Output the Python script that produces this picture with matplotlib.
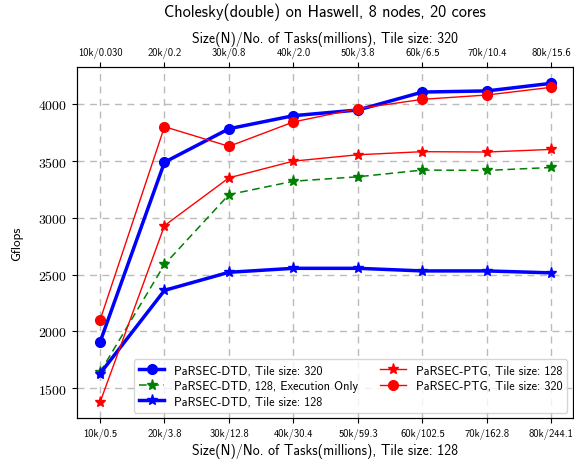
import matplotlib
matplotlib.use("Agg")
import matplotlib.pyplot as plt

plt.rcParams['font.family'] = ['cmss10', 'DejaVu Sans']
plt.rcParams['axes.formatter.use_mathtext'] = True

# Problem sizes (x positions 1..8) and tick labels for both tile sizes
sizes = [1, 2, 3, 4, 5, 6, 7, 8]
labels_128 = ["10k/0.5", "20k/3.8", "30k/12.8", "40k/30.4", "50k/59.3",
              "60k/102.5", "70k/162.8", "80k/244.1"]
labels_320 = ["10k/0.030", "20k/0.2", "30k/0.8", "40k/2.0", "50k/3.8",
              "60k/6.5", "70k/10.4", "80k/15.6"]

# Gflops per series
dtd_320 = [1905, 3490, 3785, 3900, 3950, 4108, 4118, 4185]
dtd_128_exec = [1640, 2590, 3205, 3323, 3362, 3421, 3418, 3444]
dtd_128 = [1628, 2362, 2521, 2556, 2556, 2533, 2533, 2516]
ptg_128 = [1375, 2932, 3353, 3500, 3556, 3583, 3580, 3603]
ptg_320 = [2098, 3803, 3630, 3845, 3962, 4044, 4082, 4150]

fig = plt.figure(figsize=(5.74, 4.60), dpi=100)
ax = fig.add_axes([77.3 / 574, 1 - 419 / 460, (572.7 - 77.3) / 574, (419 - 68.3) / 460])

ax.plot(sizes, dtd_320, color='blue', lw=2.5, marker='o', ms=7,
        label='PaRSEC-DTD, Tile size: 320')
ax.plot(sizes, dtd_128_exec, color='green', lw=1.1, ls=(0, (5, 3)), marker='*', ms=8,
        label='PaRSEC-DTD, 128, Execution Only')
ax.plot(sizes, dtd_128, color='blue', lw=2.5, marker='*', ms=8,
        label='PaRSEC-DTD, Tile size: 128')
ax.plot(sizes, ptg_128, color='red', lw=1, marker='*', ms=8,
        label='PaRSEC-PTG, Tile size: 128')
ax.plot(sizes, ptg_320, color='red', lw=1, marker='o', ms=7,
        label='PaRSEC-PTG, Tile size: 320')

ax.set_xlim(0.648, 8.33)
ax.set_ylim(1238, 4326)
ax.set_yticks([1500, 2000, 2500, 3000, 3500, 4000])
ax.set_xticks(sizes)
ax.set_xticklabels(labels_128, fontsize=7.6)
for t in ax.get_yticklabels():
    t.set_fontfamily('cmr10')
    t.set_fontsize(10)
ax.grid(True, ls=(0, (5, 4)), color='#bbbbbb', lw=1)
ax.set_axisbelow(True)
ax.set_ylabel('Gflops', fontsize=9.5, labelpad=11)
ax.set_xlabel('Size(N)/No. of Tasks(millions), Tile size: 128', fontsize=10, labelpad=3)

top = ax.twiny()
top.set_xlim(ax.get_xlim())
top.set_xticks(sizes)
top.set_xticklabels(labels_320, fontsize=7.6)
top.set_xlabel('Size(N)/No. of Tasks(millions), Tile size: 320', fontsize=10, labelpad=3)

ax.set_title('Cholesky(double) on Haswell, 8 nodes, 20 cores', fontsize=11.7, pad=37)

ax.legend(loc='lower right', ncol=2, fontsize=8.8, framealpha=0.8,
          borderaxespad=0.45, columnspacing=1.8, handlelength=2.1,
          labelspacing=0.3)

fig.savefig('out.png', dpi=100)
